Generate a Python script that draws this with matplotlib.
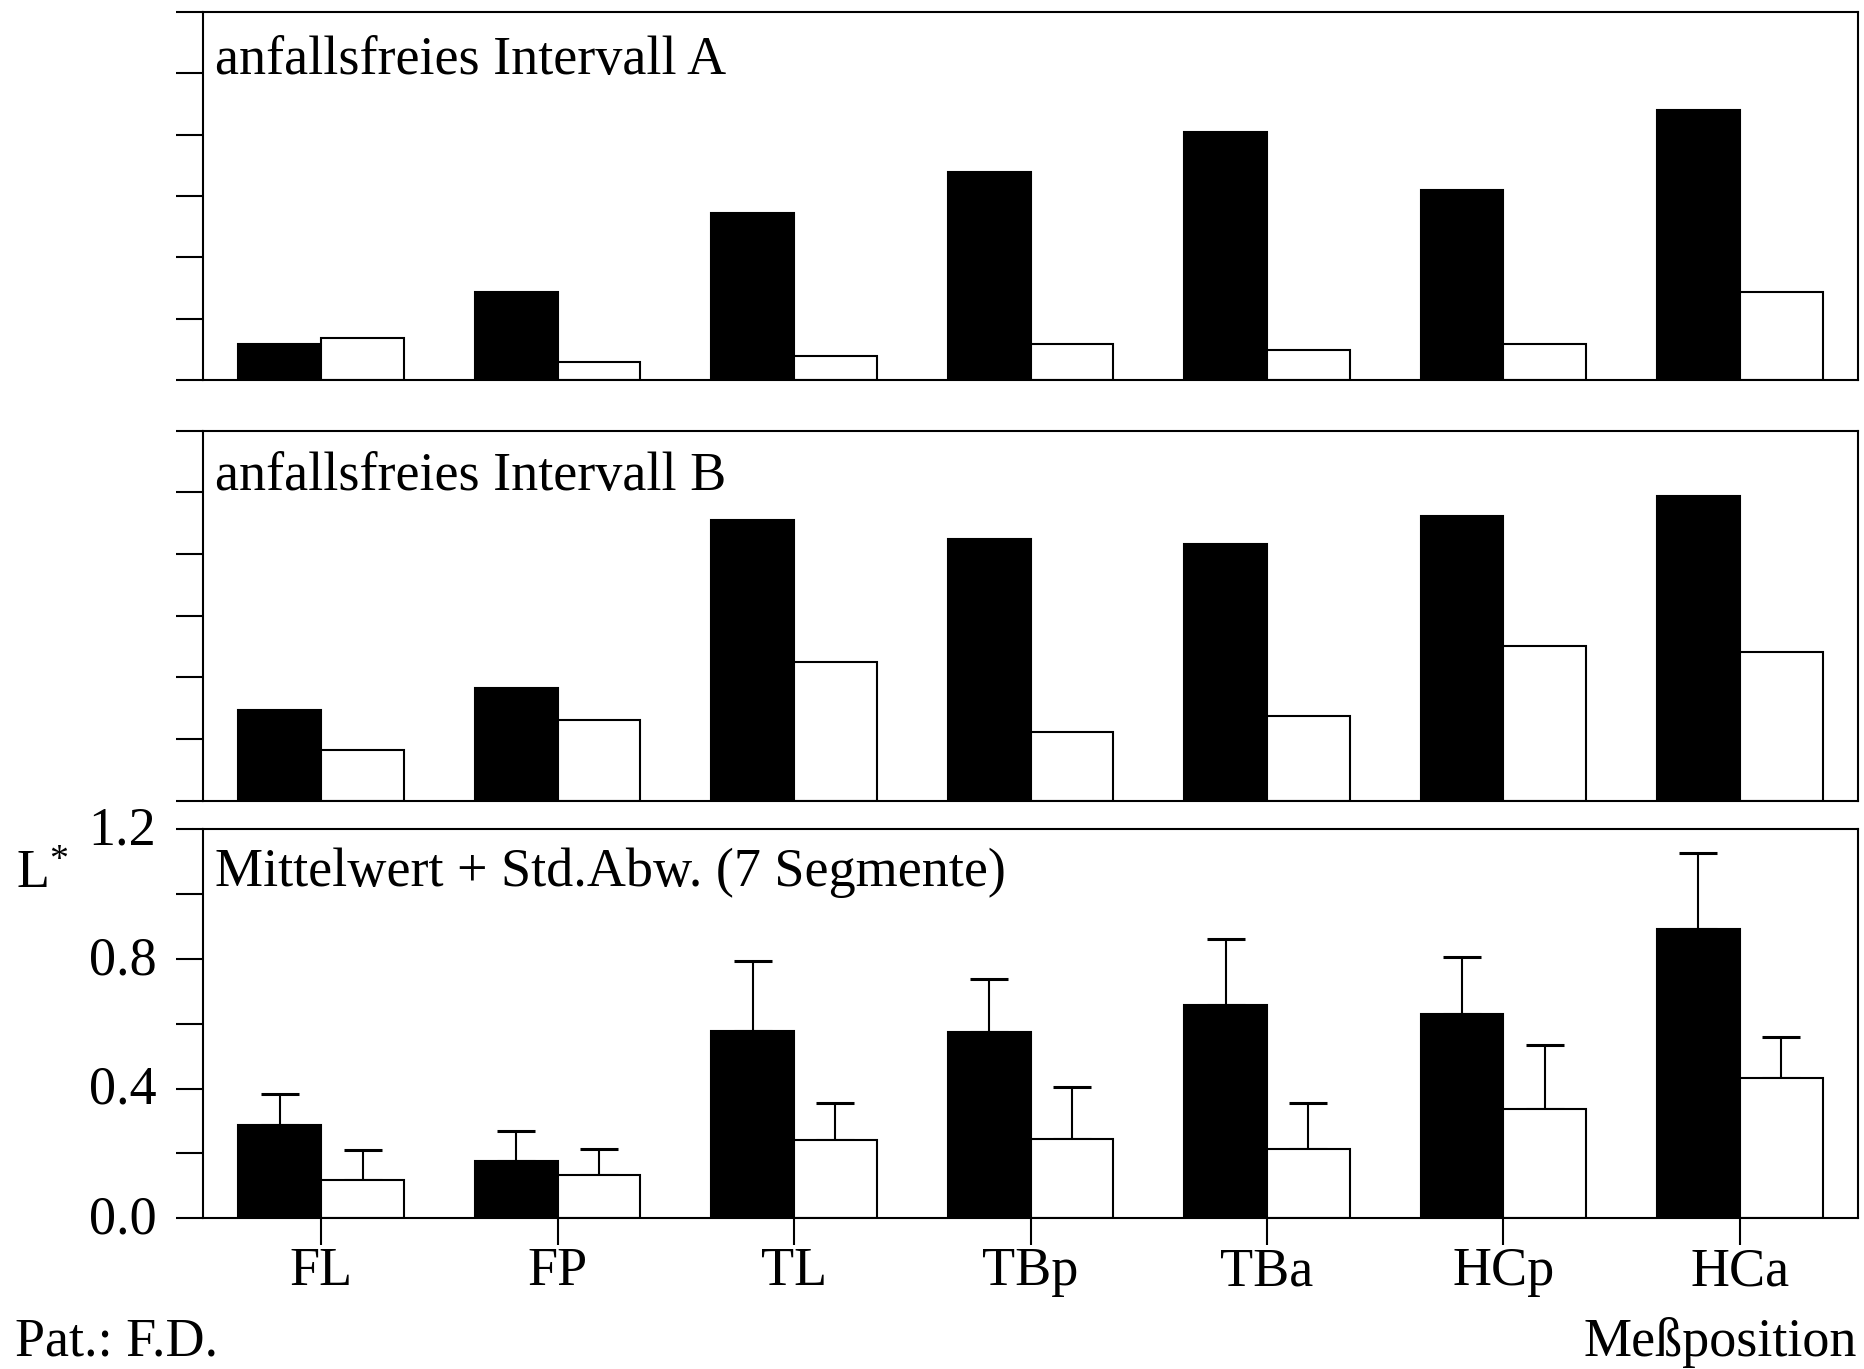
import numpy as np
import matplotlib
matplotlib.use("Agg")
import matplotlib.pyplot as plt
import matplotlib.transforms as mtransforms

plt.rcParams['font.family'] = ['Liberation Serif', 'DejaVu Serif']
plt.rcParams['mathtext.fontset'] = 'custom'
plt.rcParams['mathtext.rm'] = 'Liberation Serif'
plt.rcParams['mathtext.it'] = 'Liberation Serif:italic'

# Measuring positions
positions = ["FL", "FP", "TL", "TBp", "TBa", "HCp", "HCa"]

# Interval A (seizure-free)
a_black = [0.117, 0.287, 0.546, 0.678, 0.808, 0.619, 0.879]
a_white = [0.136, 0.059, 0.078, 0.117, 0.098, 0.117, 0.287]

# Interval B (seizure-free)
b_black = [0.294, 0.365, 0.910, 0.850, 0.832, 0.923, 0.989]
b_white = [0.164, 0.262, 0.449, 0.222, 0.274, 0.502, 0.481]

# Mean + standard deviation over 7 segments
m_black = [0.289, 0.178, 0.578, 0.573, 0.659, 0.629, 0.892]
m_black_sd = [0.093, 0.092, 0.215, 0.165, 0.203, 0.176, 0.233]
m_white = [0.118, 0.135, 0.240, 0.245, 0.214, 0.338, 0.431]
m_white_sd = [0.091, 0.078, 0.116, 0.160, 0.142, 0.196, 0.127]

ytick_labels = ["0.0", "", "0.4", "", "0.8", "", "1.2"]

panel_titles = ["anfallsfreies Intervall A",
                "anfallsfreies Intervall B",
                "Mittelwert + Std.Abw. (7 Segmente)"]

W, H = 1865, 1369
fig = plt.figure(figsize=(W / 100, H / 100), dpi=100)

left = 203 / W
width = (1858 - 203) / W
# (top, bottom) of each panel in pixels
panel_px = [(12, 380), (430.6, 800.7), (829, 1218.3)]

FS = 39
LW = 1.5
bw = 0.35
x = np.arange(len(positions))

axes = []
for (top, bot) in panel_px:
    ax = fig.add_axes([left, 1 - bot / H, width, (bot - top) / H])
    axes.append(ax)

data = [(a_black, a_white, None, None),
        (b_black, b_white, None, None),
        (m_black, m_white, m_black_sd, m_white_sd)]

text_y = [0.832, 0.840, 0.854]

for i, (ax, (blk, wht, sdb, sdw)) in enumerate(zip(axes, data)):
    ax.bar(x - bw / 2, blk, bw, color="black", edgecolor="black",
           linewidth=LW, zorder=2)
    ax.bar(x + bw / 2, wht, bw, color="white", edgecolor="black",
           linewidth=LW, zorder=2)
    if sdb is not None:
        z = np.zeros(len(x))
        ax.errorbar(x - bw / 2, blk, yerr=[z, sdb], fmt="none", ecolor="black",
                    elinewidth=LW, capsize=13.5, capthick=2.2, zorder=1)
        ax.errorbar(x + bw / 2, wht, yerr=[z, sdw], fmt="none", ecolor="black",
                    elinewidth=LW, capsize=13.5, capthick=2.2, zorder=1)

    ax.set_xlim(-0.5, len(positions) - 0.5)
    ax.set_ylim(0, 1.2)
    ax.set_yticks(np.arange(0, 1.21, 0.2))
    for s in ax.spines.values():
        s.set_linewidth(LW)
    ax.tick_params(axis="y", direction="out", length=19.5, width=LW,
                   labelsize=FS, pad=14)
    ax.tick_params(axis="x", direction="out", length=19.5, width=LW,
                   labelsize=FS, pad=1)
    if i < 2:
        ax.set_yticklabels([])
        ax.set_xticks([])
    else:
        ax.set_yticklabels(ytick_labels)
        ax.set_xticks(x)
        ax.set_xticklabels(positions)
        lift = mtransforms.ScaledTranslation(0, 4 / 100, fig.dpi_scale_trans)
        for lab in ax.get_yticklabels():
            lab.set_transform(lab.get_transform() + lift)
    ax.text(0.0075, text_y[i], panel_titles[i], transform=ax.transAxes,
            fontsize=FS, ha="left", va="baseline")

fig.text(16 / W, 1 - 888 / H, r"L$^{*}$", fontsize=FS, ha="left",
         va="baseline")
fig.text(15 / W, 1 - 1356 / H, "Pat.: F.D.", fontsize=FS, ha="left",
         va="baseline")
fig.text(1857 / W, 1 - 1356 / H, "Meßposition", fontsize=FS, ha="right",
         va="baseline")

fig.savefig("out.png", dpi=100, facecolor="white")
